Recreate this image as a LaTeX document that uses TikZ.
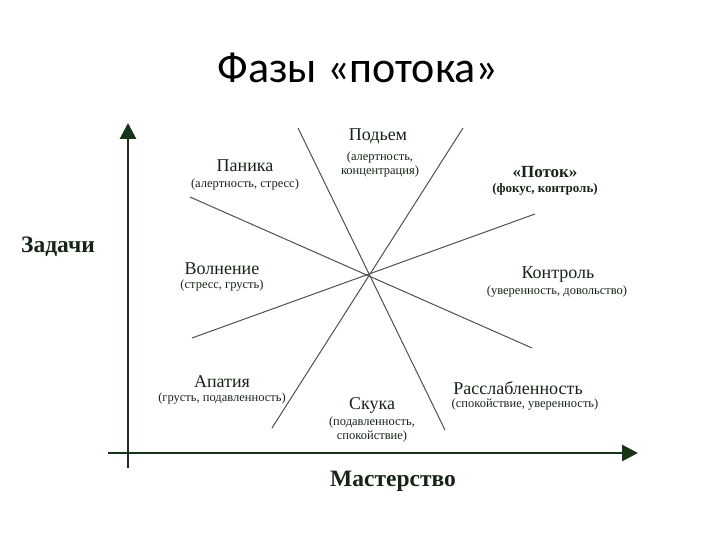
\documentclass[tikz,border=0pt]{standalone}
\usepackage{fontspec}
\setmainfont{Liberation Serif}
\newfontfamily\titlefont{Carlito}
\usetikzlibrary{arrows.meta}
\definecolor{axisgreen}{RGB}{24,52,24}
\definecolor{linegray}{RGB}{80,80,80}
\definecolor{txt}{RGB}{22,36,22}
\tikzset{
  axisline/.style={draw=axisgreen, line width=2.8pt, -{Triangle[length=16pt,width=16pt]}},
  phaseline/.style={draw=linegray, line width=1pt},
  head/.style={text=txt, font=\fontsize{18}{20}\selectfont, inner sep=0pt},
  sub/.style={text=txt, font=\fontsize{12.5}{14}\selectfont, inner sep=0pt, align=center},
  boldlab/.style={text=txt, font=\fontsize{23.5}{26}\selectfont\bfseries, inner sep=0pt},
}
\begin{document}
\begin{tikzpicture}[x=1pt,y=-1pt]
\useasboundingbox (0,0) rectangle (720,540);
% title
\node[font=\titlefont\fontsize{44}{48}\selectfont, inner sep=0pt] (title) at (358,68) {Фазы «потока»};
% axes
\coordinate (ybot) at (128,468);
\coordinate (ytop) at (128,123);
\coordinate (xleft) at (108,453);
\coordinate (xright) at (638,453);
\draw[axisline] (ybot) -- (ytop);
\draw[axisline] (xleft) -- (xright);
% phase lines
\coordinate (l1a) at (298,128); \coordinate (l1b) at (445,430);
\coordinate (l2a) at (463,128); \coordinate (l2b) at (272,428);
\coordinate (l3a) at (190,197); \coordinate (l3b) at (532,348);
\coordinate (l4a) at (192,338); \coordinate (l4b) at (535,214);
\draw[phaseline] (l1a) -- (l1b);
\draw[phaseline] (l2a) -- (l2b);
\draw[phaseline] (l3a) -- (l3b);
\draw[phaseline] (l4a) -- (l4b);
% labels
\node[head] (podem) at (378,136) {Подьем};
\node[sub] (podems) at (380,164) {(алертность,\\концентрация)};
\node[head] (panika) at (245,166) {Паника};
\node[sub] (panikas) at (245,184) {(алертность, стресс)};
\node[head, font=\fontsize{17}{19}\selectfont\bfseries] (potok) at (545,172) {«Поток»};
\node[sub, font=\fontsize{13}{15}\selectfont\bfseries] (potoks) at (545,189) {(фокус, контроль)};
\node[head] (volnenie) at (222,269) {Волнение};
\node[sub] (volnenies) at (222,286) {(стресс, грусть)};
\node[head] (kontrol) at (558,275) {Контроль};
\node[sub] (kontrols) at (557,292) {(уверенность, довольство)};
\node[head] (apatia) at (222,382) {Апатия};
\node[sub] (apatias) at (222,399) {(грусть, подавленность)};
\node[head] (skuka) at (372,405) {Скука};
\node[sub] (skukas) at (372,429) {(подавленность,\\спокойствие)};
\node[head] (rassl) at (518,388) {Расслабленность};
\node[sub] (rassls) at (525,405) {(спокойствие, уверенность)};
\node[boldlab] (zadachi) at (58,247) {Задачи};
\node[boldlab] (master) at (393,481) {Мастерство};
\end{tikzpicture}
\end{document}
